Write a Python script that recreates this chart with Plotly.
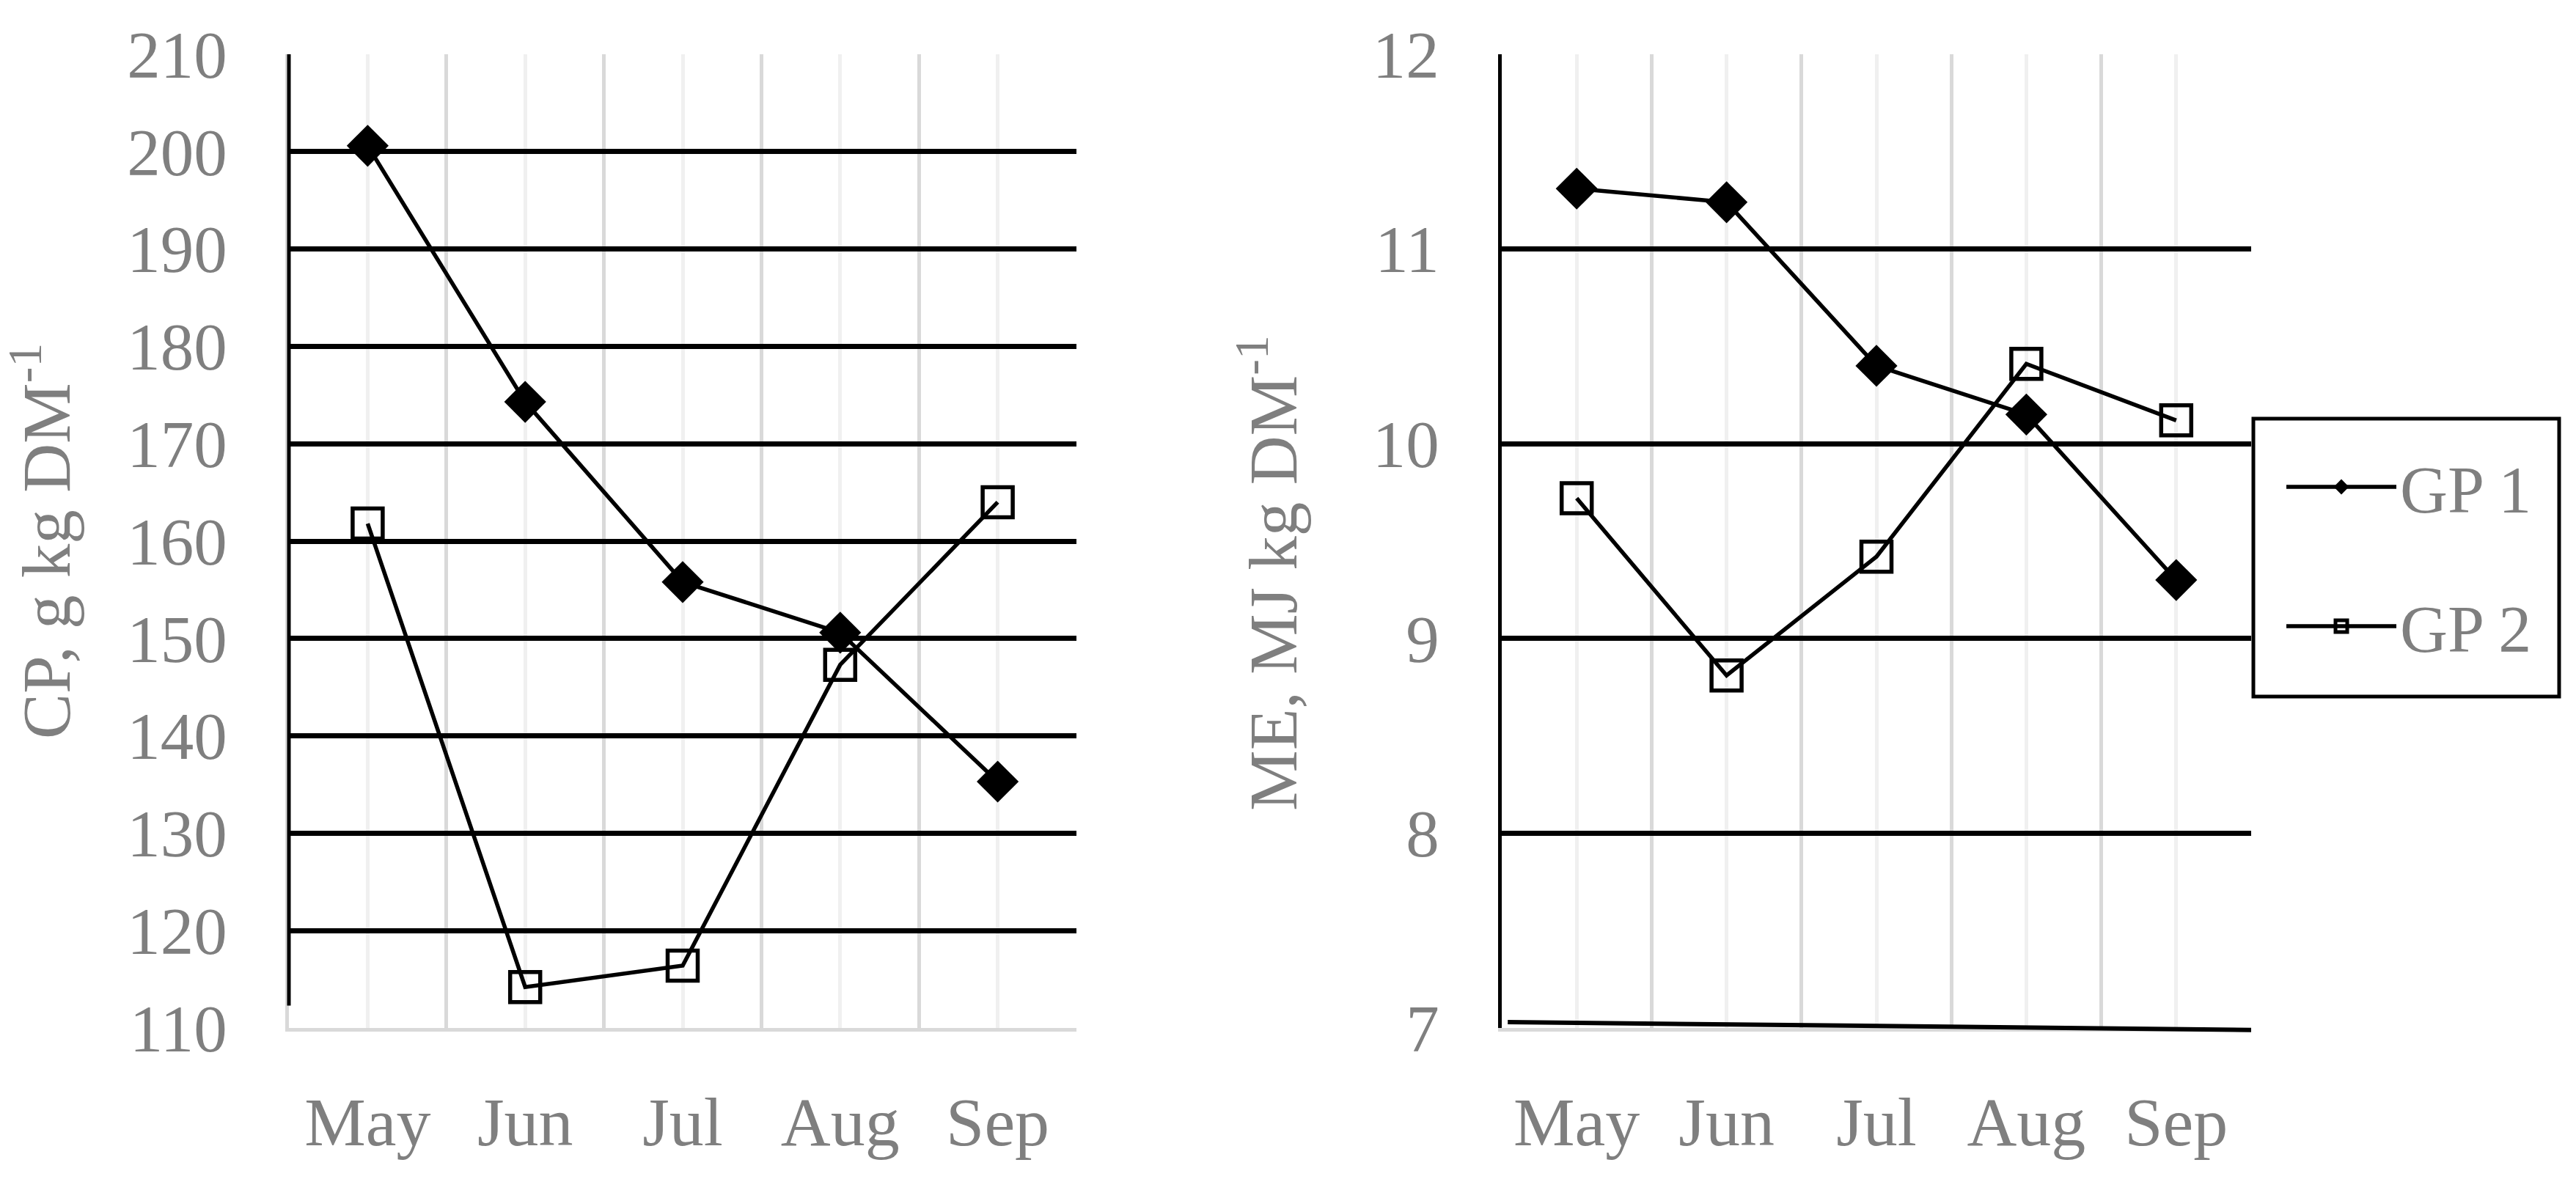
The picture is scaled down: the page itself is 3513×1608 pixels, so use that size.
import plotly.graph_objects as go
from plotly.subplots import make_subplots

# data
months = ["May", "Jun", "Jul", "Aug", "Sep"]
cp_gp1 = [200.6, 174.3, 155.8, 150.6, 135.3]
cp_gp2 = [161.8, 114.2, 116.4, 147.3, 164.0]
me_gp1 = [11.31, 11.24, 10.40, 10.15, 9.30]
me_gp2 = [9.72, 8.81, 9.42, 10.41, 10.12]

cp_ticks = [110, 120, 130, 140, 150, 160, 170, 180, 190, 200, 210]
me_ticks = [7, 8, 9, 10, 11, 12]

FONT = "Liberation Serif"
GREY = "#7f7f7f"
W, H = 3513, 1608


# pixel -> paper, allowing for the 8px page margin the browser adds
def px(x):
    return (x - 8) / W


def py(y):
    return 1 - (y - 8) / H


xpos = list(range(len(months)))
bounds = [i - 0.5 for i in range(len(months) + 1)]

fig = make_subplots(rows=1, cols=2)

gp1_style = dict(mode="lines+markers", line=dict(color="black", width=5.5),
                 marker=dict(symbol="diamond", size=44, color="black"))
gp2_style = dict(mode="lines+markers", line=dict(color="black", width=5.5),
                 marker=dict(symbol="square-open", size=41, color="black",
                             line=dict(width=5.5, color="black")))

fig.add_trace(go.Scatter(x=xpos, y=cp_gp1, name="GP 1", legendgroup="a", **gp1_style), 1, 1)
fig.add_trace(go.Scatter(x=xpos, y=cp_gp2, name="GP 2", legendgroup="b", **gp2_style), 1, 1)
fig.add_trace(go.Scatter(x=xpos, y=me_gp1, name="GP 1", legendgroup="a", showlegend=False, **gp1_style), 1, 2)
fig.add_trace(go.Scatter(x=xpos, y=me_gp2, name="GP 2", legendgroup="b", showlegend=False, **gp2_style), 1, 2)

xcommon = dict(range=[-0.5, len(months) - 0.5], tickvals=xpos, ticktext=months,
               showgrid=True, gridcolor="#f0f0f0", gridwidth=5,
               minor=dict(tickvals=bounds, showgrid=True, gridcolor="#d9d9d9", gridwidth=5),
               showline=True, linecolor="#d9d9d9", linewidth=5,
               ticks="", zeroline=False, ticklabelstandoff=42, automargin=False,
               tickfont=dict(family=FONT, size=94, color=GREY))

ydom = [py(1402), py(74)]
fig.update_xaxes(domain=[px(394), px(1468)], row=1, col=1, **xcommon)
fig.update_xaxes(domain=[px(2048), px(3070)], row=1, col=2, **xcommon)

fig.update_yaxes(domain=ydom, range=[110, 210], tickvals=cp_ticks,
                 showgrid=True, gridcolor="black", gridwidth=6.5,
                 showline=True, linecolor="#d9d9d9", linewidth=5,
                 ticks="", zeroline=False, ticklabelstandoff=61, automargin=False,
                 tickfont=dict(family=FONT, size=91, color=GREY), row=1, col=1)
fig.update_yaxes(domain=ydom, range=[7, 12], tickvals=me_ticks,
                 showgrid=True, gridcolor="black", gridwidth=7,
                 showline=True, linecolor="black", linewidth=5,
                 ticks="", zeroline=False, ticklabelstandoff=62, automargin=False,
                 tickfont=dict(family=FONT, size=91, color=GREY), row=1, col=2)

# black part of the left y axis line, and the slanted black base line of the right panel
fig.add_shape(type="line", xref="x domain", yref="y", x0=0, x1=0, y0=112.3, y1=210,
              line=dict(color="black", width=5))
fig.add_shape(type="line", xref="x2 domain", yref="y2 domain", x0=0.008, x1=1.0, y0=0.006, y1=-0.002,
              line=dict(color="black", width=6))
# legend frame
fig.add_shape(type="rect", xref="paper", yref="paper", x0=px(3073), x1=px(3490), y0=py(950), y1=py(571),
              line=dict(color="black", width=5))

fig.add_annotation(text="CP, g kg DM<sup>-1</sup>", xref="paper", yref="paper",
                   x=px(56), y=py(738), xanchor="center", yanchor="middle",
                   textangle=-90, showarrow=False,
                   font=dict(family=FONT, size=93, color=GREY))
fig.add_annotation(text="ME, MJ kg DM<sup>-1</sup>", xref="paper", yref="paper",
                   x=px(1729), y=py(782), xanchor="center", yanchor="middle",
                   textangle=-90, showarrow=False,
                   font=dict(family=FONT, size=93, color=GREY))

fig.update_layout(
    width=W, height=H,
    margin=dict(l=0, r=0, t=0, b=0, autoexpand=False),
    paper_bgcolor="white", plot_bgcolor="white",
    legend=dict(x=px(3113), y=py(599), xanchor="left", yanchor="top",
                borderwidth=0, bgcolor="rgba(0,0,0,0)",
                font=dict(family=FONT, size=90, color=GREY),
                tracegroupgap=70, itemwidth=150, itemsizing="trace"),
)

fig.write_html("out.html")
